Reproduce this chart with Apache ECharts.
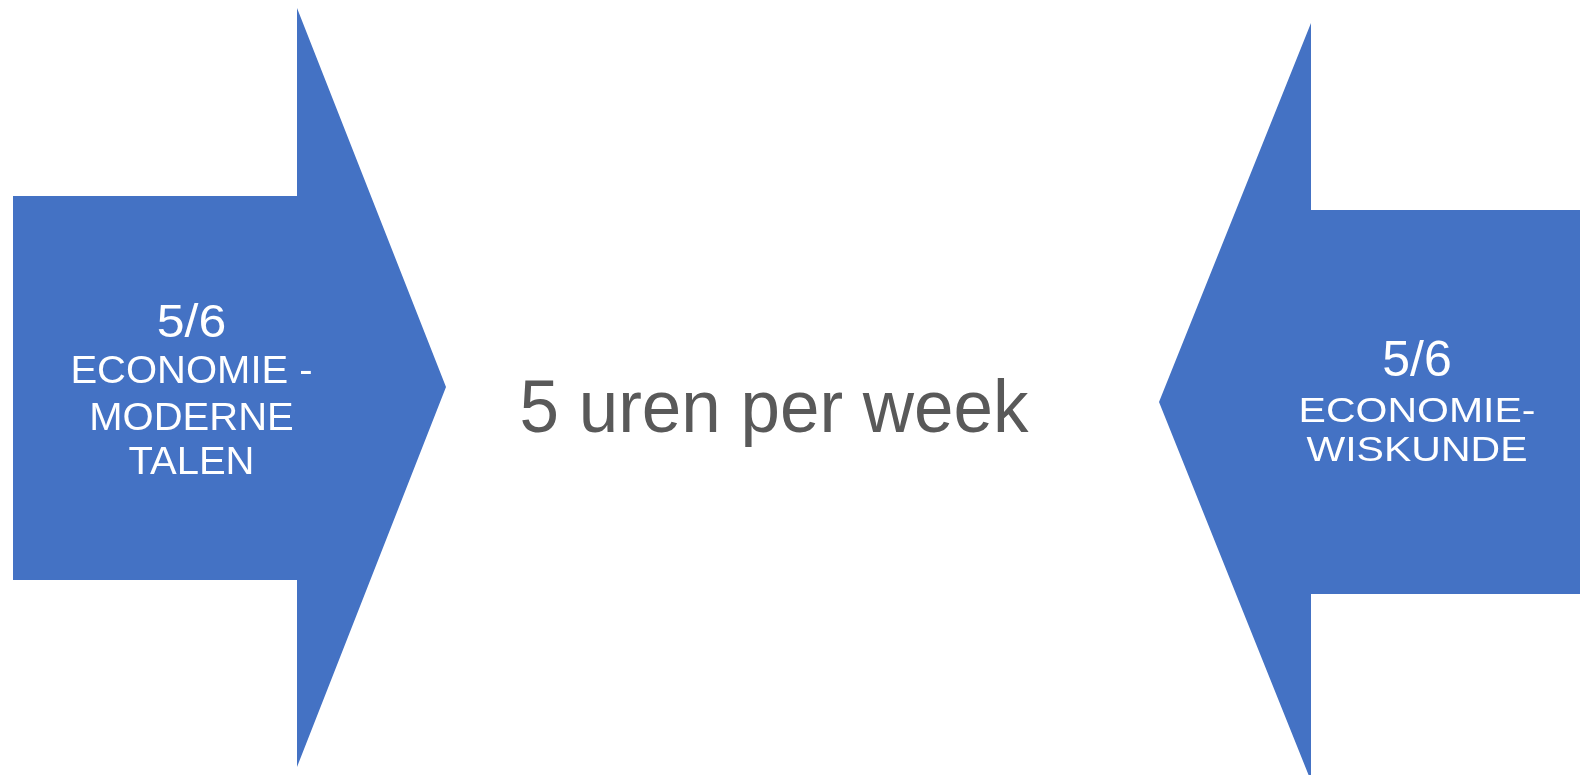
<!DOCTYPE html>
<html>
<head>
<meta charset="utf-8">
<script src="https://cdn.jsdelivr.net/npm/echarts@6/dist/echarts.min.js"></script>
<style>
html,body{margin:0;padding:0;background:#fff;}
#main{width:1580px;height:775px;}
</style>
</head>
<body>
<div id="main"></div>
<script>
// Text content of the diagram
var leftLines = ['5/6', 'ECONOMIE -', 'MODERNE', 'TALEN'];
var rightLines = ['5/6', 'ECONOMIE-', 'WISKUNDE'];
var centerText = '5 uren per week';

var BLUE = '#4472C4';
var FONT = '"Liberation Sans", Arial, sans-serif';

// layout (pixel geometry of the two block arrows)
var leftArrow = [[13,196],[297,196],[297,8],[446,387],[297,767],[297,580],[13,580]];
var rightArrow = [[1580,210],[1311,210],[1311,23],[1159,402],[1311,781],[1311,594],[1580,594]];

var leftY = [324, 373, 420, 464];
var leftFs = [50, 40, 40, 40];
var leftSy = [0.94, 0.95, 0.95, 0.95];
var rightY = [362, 412, 451];
var rightFs = [50, 41, 41];
var rightSy = [0.98, 0.86, 0.86];

var graphics = [
  {type:'polygon', shape:{points:leftArrow}, style:{fill:BLUE}, silent:true},
  {type:'polygon', shape:{points:rightArrow}, style:{fill:BLUE}, silent:true}
];
leftLines.forEach(function(t,i){
  graphics.push({type:'text', x:191.5, y:leftY[i], scaleY:leftSy[i],
    style:{text:t, fill:'#fff', font: leftFs[i]+'px '+FONT, align:'center', verticalAlign:'middle'}});
});
rightLines.forEach(function(t,i){
  graphics.push({type:'text', x:1417, y:rightY[i], scaleY:rightSy[i],
    style:{text:t, fill:'#fff', font: rightFs[i]+'px '+FONT, align:'center', verticalAlign:'middle'}});
});
graphics.push({type:'text', x:774, y:412, scaleY:1.04,
  style:{text:centerText, fill:'#595959', font:'71px '+FONT, align:'center', verticalAlign:'middle'}});

var chart = echarts.init(document.getElementById('main'), null, {renderer:'canvas'});
chart.setOption({
  backgroundColor:'#ffffff',
  animation:false,
  graphic: graphics
});
</script>
</body>
</html>
